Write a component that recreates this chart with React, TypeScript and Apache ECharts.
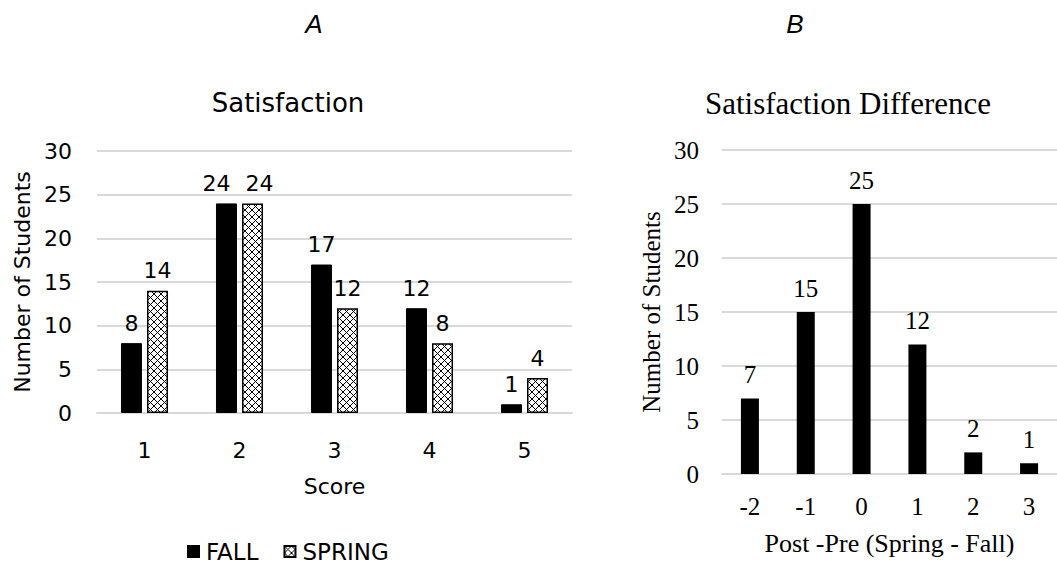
import React, { useEffect, useRef } from "react";
import * as echarts from "echarts";

// ---- data ----
const scoreCategories = ["1", "2", "3", "4", "5"];
const fallValues = [8, 24, 17, 12, 1];
const springValues = [14, 24, 12, 8, 4];
const diffCategories = ["-2", "-1", "0", "1", "2", "3"];
const diffValues = [7, 15, 25, 12, 2, 1];
const yMin = 0;
const yMax = 30;
const yInterval = 5;

const SANS = "DejaVu Sans";
const SERIF = "Liberation Serif";
const GRID_COLOR = "#d9d9d9";

function makePattern() {
  const size = 7;
  const c = document.createElement("canvas");
  c.width = size;
  c.height = size;
  const ctx = c.getContext("2d")!;
  ctx.fillStyle = "#fff";
  ctx.fillRect(0, 0, size, size);
  ctx.strokeStyle = "#000";
  ctx.lineWidth = 1;
  ctx.beginPath();
  ctx.moveTo(0, 0);
  ctx.lineTo(size, size);
  ctx.moveTo(size, 0);
  ctx.lineTo(0, size);
  ctx.stroke();
  return c;
}

// labels of equal-height neighbouring bars are nudged apart (as in the source chart)
function withLabelNudge(values: number[], other: number[], dx: number) {
  return values.map((v, i) => (v === other[i] ? { value: v, label: { offset: [dx, 0] } } : v));
}

export default function App() {
  const ref = useRef<HTMLDivElement>(null);
  useEffect(() => {
    if (!ref.current) return;
    const chart = echarts.init(ref.current, undefined, { renderer: "svg" });
    const pattern = { image: makePattern(), repeat: "repeat" as const };

    const valueAxisCommon = (font: string, size: number, margin: number, nameGap: number) => ({
      type: "value" as const,
      min: yMin,
      max: yMax,
      interval: yInterval,
      name: "Number of Students",
      nameLocation: "middle" as const,
      nameGap,
      nameTextStyle: { fontFamily: font, fontSize: size, color: "#000" },
      axisLine: { show: false },
      axisTick: { show: false },
      axisLabel: { fontFamily: font, fontSize: size, color: "#000", margin },
      splitLine: { lineStyle: { color: GRID_COLOR, width: 2 } },
    });

    const letterStyle = {
      fontFamily: "Liberation Sans",
      fontStyle: "italic",
      fontSize: 26,
      fill: "#000",
      textAlign: "center",
      textVerticalAlign: "middle",
    };

    chart.setOption({
      animation: false,
      backgroundColor: "#fff",
      grid: [
        { left: 97, top: 151, width: 475, height: 262 },
        { left: 722, top: 150, width: 344, height: 324 },
      ],
      legend: {
        left: 187,
        top: 540,
        padding: 0,
        itemWidth: 11,
        itemHeight: 11,
        itemGap: 25,
        textStyle: { fontFamily: SANS, fontSize: 23, lineHeight: 22, color: "#000", padding: [0, 0, 0, 2] },
        data: [
          { name: "FALL", icon: "rect" },
          { name: "SPRING", icon: "rect" },
        ],
      },
      xAxis: [
        {
          type: "category",
          gridIndex: 0,
          data: scoreCategories,
          name: "Score",
          nameLocation: "middle",
          nameGap: 62,
          nameTextStyle: { fontFamily: SANS, fontSize: 22, color: "#000" },
          axisLine: { lineStyle: { color: GRID_COLOR, width: 2 } },
          axisTick: { show: false },
          axisLabel: { fontFamily: SANS, fontSize: 22, color: "#000", margin: 26 },
        },
        {
          type: "category",
          gridIndex: 1,
          data: diffCategories,
          name: "Post -Pre (Spring - Fall)",
          nameLocation: "middle",
          nameGap: 56,
          nameTextStyle: { fontFamily: SERIF, fontSize: 26, color: "#000" },
          axisLine: { lineStyle: { color: GRID_COLOR, width: 2 } },
          axisTick: { show: false },
          axisLabel: { fontFamily: SERIF, fontSize: 25, color: "#000", margin: 20 },
        },
      ],
      yAxis: [
        { ...valueAxisCommon(SANS, 22, 25, 64), gridIndex: 0 },
        { ...valueAxisCommon(SERIF, 25, 23, 58), gridIndex: 1 },
      ],
      series: [
        {
          name: "FALL",
          type: "bar",
          xAxisIndex: 0,
          yAxisIndex: 0,
          data: withLabelNudge(fallValues, springValues, -10),
          barWidth: 21,
          barGap: "24%",
          itemStyle: { color: "#000", borderColor: "#000", borderWidth: 1 },
          label: { show: true, position: "top", distance: 9, fontFamily: SANS, fontSize: 22, color: "#000" },
        },
        {
          name: "SPRING",
          type: "bar",
          xAxisIndex: 0,
          yAxisIndex: 0,
          data: withLabelNudge(springValues, fallValues, 7),
          barWidth: 21,
          itemStyle: { color: pattern, borderColor: "#000", borderWidth: 1.5 },
          label: { show: true, position: "top", distance: 9, fontFamily: SANS, fontSize: 22, color: "#000" },
        },
        {
          name: "Difference",
          type: "bar",
          xAxisIndex: 1,
          yAxisIndex: 1,
          data: diffValues,
          barWidth: 18,
          itemStyle: { color: "#000" },
          label: { show: true, position: "top", distance: 11, fontFamily: SERIF, fontSize: 25, color: "#000" },
        },
      ],
      graphic: [
        { type: "text", x: 314, y: 24, style: { ...letterStyle, text: "A" } },
        { type: "text", x: 795, y: 24, style: { ...letterStyle, text: "B" } },
        {
          type: "text",
          x: 288,
          y: 103,
          style: { text: "Satisfaction", fontFamily: SANS, fontSize: 26, fill: "#000", textAlign: "center", textVerticalAlign: "middle" },
        },
        {
          type: "text",
          x: 848,
          y: 103,
          style: { text: "Satisfaction Difference", fontFamily: SERIF, fontSize: 31, fill: "#000", textAlign: "center", textVerticalAlign: "middle" },
        },
      ],
    });
    return () => chart.dispose();
  }, []);
  return (
    <div
      ref={ref}
      style={{ position: "fixed", left: 0, top: 0, width: 1057, height: 563, background: "#fff" }}
    />
  );
}
